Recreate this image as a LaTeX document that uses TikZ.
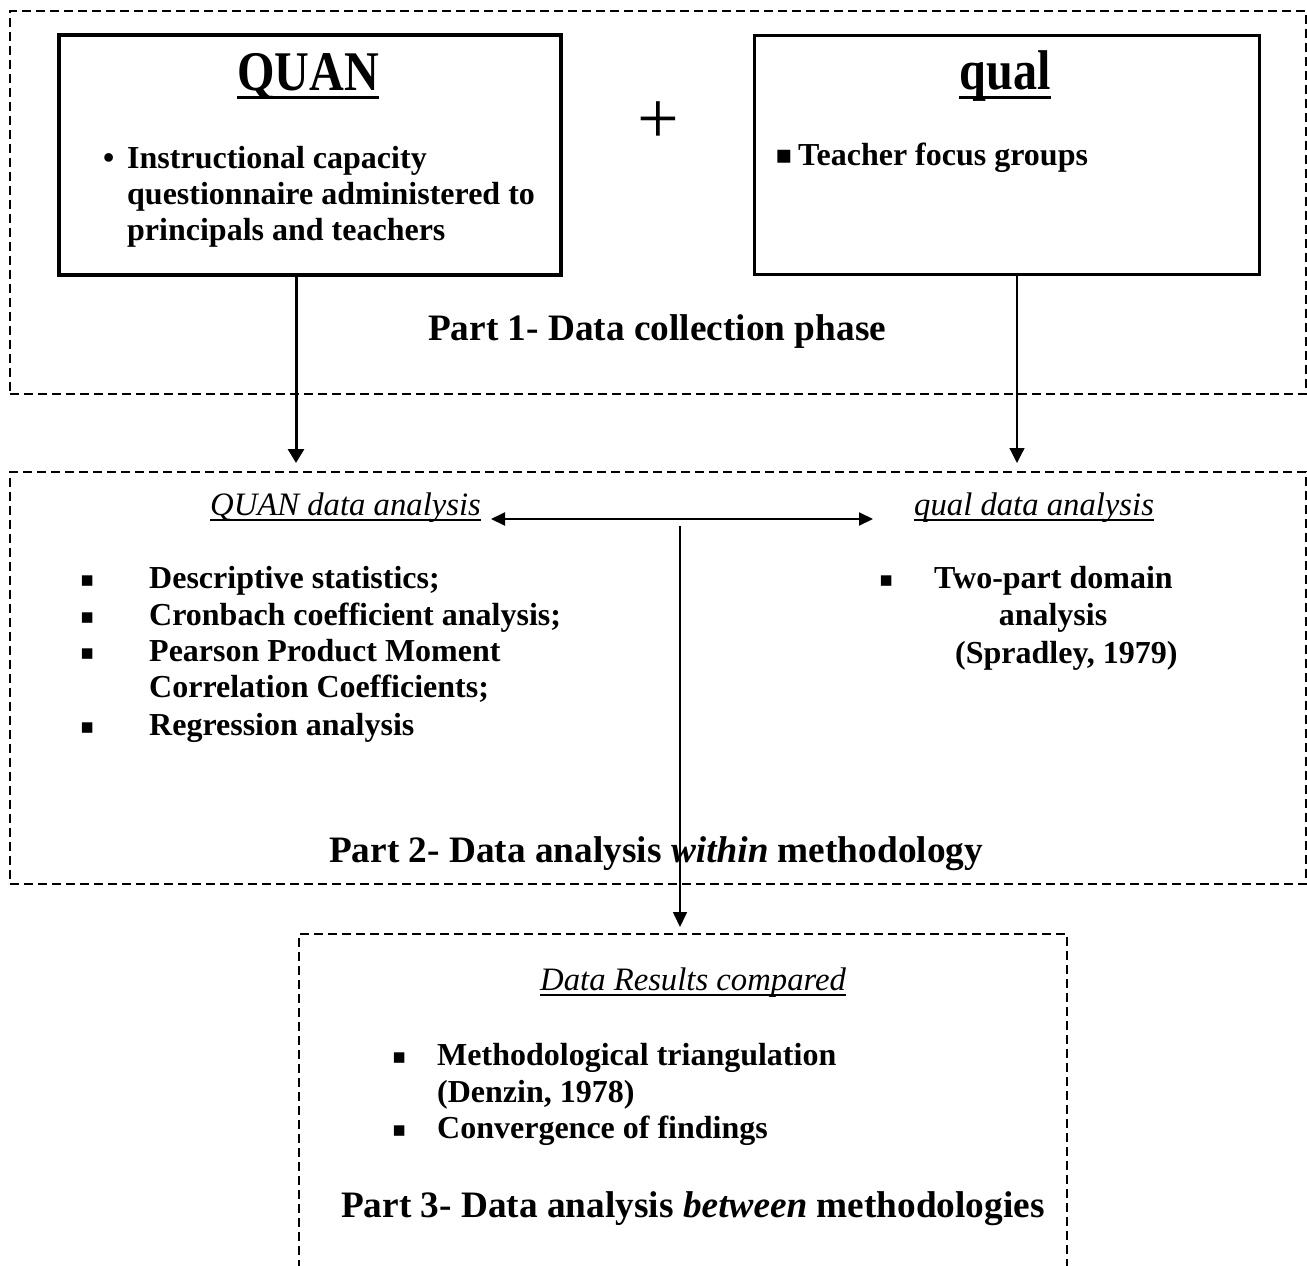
\documentclass[tikz,border=0pt]{standalone}
\usepackage{fontspec}
\setmainfont{Liberation Serif}
\newfontfamily\headfont[FakeStretch=0.86]{Liberation Serif Bold}
\newfontfamily\symfont{DejaVu Sans}
\usetikzlibrary{arrows.meta}
\begin{document}
\begin{tikzpicture}[x=1pt,y=-1pt,
  txt/.style={inner sep=0pt, anchor=base west, font=\fontsize{32}{36}\selectfont\bfseries},
  ctxt/.style={txt, anchor=base},
  part/.style={inner sep=0pt, anchor=base west, font=\fontsize{37.3}{42}\selectfont\bfseries},
  sub/.style={inner sep=0pt, anchor=base west, font=\fontsize{32.7}{38}\selectfont\itshape},
  head/.style={inner sep=0pt, anchor=base, font=\headfont\fontsize{56}{60}\selectfont},
  sq/.style={inner sep=0pt, anchor=base west, font=\symfont\fontsize{21}{21}\selectfont},
  sqbig/.style={sq, font=\symfont\fontsize{26}{26}\selectfont},
  dbox/.style={draw, dash pattern=on 9pt off 5pt, line width=1.5pt, inner sep=0pt, anchor=north west},
  ulhead/.style={line width=3pt},
  ulsub/.style={line width=2pt},
  arrA/.style={-{Triangle[length=14pt,width=16pt]}, line width=3pt},
  arrB/.style={-{Triangle[length=15pt,width=15pt]}, line width=1.2pt},
  arrC/.style={{Triangle[length=14pt,width=13pt]}-{Triangle[length=14pt,width=13pt]}, line width=2pt},
  arrD/.style={-{Triangle[length=15pt,width=14pt]}, line width=1.6pt}
]
\useasboundingbox (0,0) rectangle (1307,1266);
\clip (0,0) rectangle (1307,1266);

% frames
\node[dbox, minimum width=1296pt, minimum height=383pt] (part1) at (9,10) {};
\node[dbox, minimum width=1296pt, minimum height=412pt] (part2) at (9,471) {};
\node[dbox, minimum width=768pt, minimum height=420pt] (part3) at (298,933) {};
\node[draw, line width=4pt, inner sep=0pt, anchor=north west, minimum width=502pt, minimum height=240pt] (quan) at (57,33) {};
\node[draw, line width=2.5pt, inner sep=0pt, anchor=north west, minimum width=505pt, minimum height=239pt] (qual) at (753,34) {};

% Part 1
\node[head] (quant) at (308,90) {QUAN};
\draw[ulhead] ([yshift=-7pt]quant.base west) -- ([yshift=-7pt]quant.base east);
\node[txt] (qb) at (103,168) {•};
\node[txt] (q1) at (127,168) {Instructional capacity};
\node[txt] (q2) at (127,204) {questionnaire administered to};
\node[txt] (q3) at (127,240) {principals and teachers};

\node[inner sep=0pt, font=\fontsize{74}{74}\selectfont] (plus) at (658,123) {+};

\node[head] (qualt) at (1005,89) {qual};
\draw[ulhead] ([yshift=-8pt]qualt.base west) -- ([yshift=-8pt]qualt.base east);
\node[sqbig] (lb) at (775,163) {▪};
\node[txt] (l1) at (798,165) {Teacher focus groups};

\node[part] (p1) at (428,340) {Part 1- Data collection phase};

% Part 2
\node[sub] (quanh) at (210,515) {QUAN data analysis};
\draw[ulsub] ([yshift=-5pt]quanh.base west) -- ([yshift=-5pt]quanh.base east);
\node[sub] (qualh) at (914,515) {qual data analysis};
\draw[ulsub] ([yshift=-5pt]qualh.base west) -- ([yshift=-5pt]qualh.base east);

\node[sq] (b1) at (80,586) {▪};
\node[txt] (s1) at (149,588) {Descriptive statistics;};
\node[sq] (b2) at (80,623) {▪};
\node[txt] (s2) at (149,625) {Cronbach coefficient analysis;};
\node[sq] (b3) at (80,659) {▪};
\node[txt] (s3) at (149,661) {Pearson Product Moment};
\node[txt] (s4) at (149,697) {Correlation Coefficients;};
\node[sq] (b5) at (80,733) {▪};
\node[txt] (s5) at (149,735) {Regression analysis};

\node[sq] (rb) at (879,586) {▪};
\node[txt] (r1) at (934,588) {Two-part domain};
\node[ctxt] (r2) at (1053,625) {analysis};
\node[txt] (r3) at (955,663) {(Spradley, 1979)};

\node[part] (p2) at (329,862) {Part 2- Data analysis \textit{within} methodology};

% Part 3
\node[sub] (dh) at (540,990) {Data Results compared};
\draw[ulsub] ([yshift=-5pt]dh.base west) -- ([yshift=-5pt]dh.base east);
\node[sq] (tb1) at (392,1063) {▪};
\node[txt] (t1) at (437,1065) {Methodological triangulation};
\node[txt] (t2) at (437,1102) {(Denzin, 1978)};
\node[sq] (tb2) at (392,1136) {▪};
\node[txt] (t3) at (437,1138) {Convergence of findings};

\node[part] (p3) at (341,1217) {Part 3- Data analysis \textit{between} methodologies};

% connectors
\coordinate (dl) at (491,519);
\coordinate (dr) at (873,519);
\coordinate (vt) at (680,526);
\draw[arrA] (quan.south -| 296,0) -- ([yshift=8pt]part2.north -| 296,0);
\draw[arrB] (qual.south -| 1017,0) -- ([yshift=8pt]part2.north -| 1017,0);
\draw[arrC] (dl) -- (dr);
\draw[arrD] (vt) -- ([yshift=6pt]part3.north -| vt);
\end{tikzpicture}
\end{document}
